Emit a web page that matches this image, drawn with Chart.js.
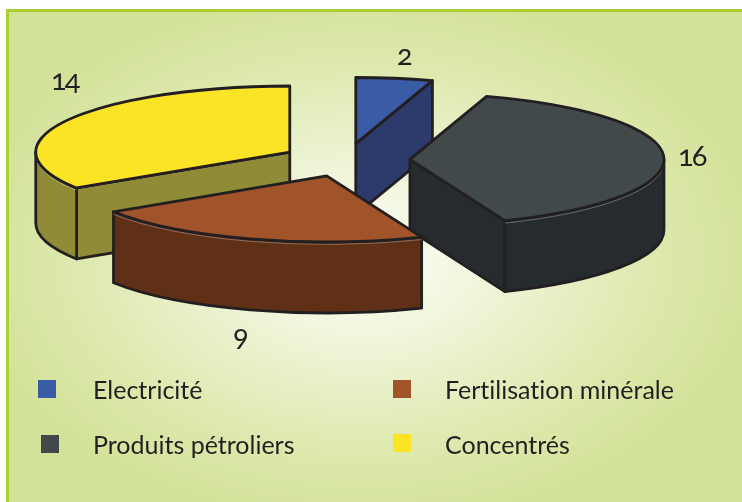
<!DOCTYPE html>
<html lang="fr">
<head>
<meta charset="utf-8">
<script src="https://cdn.jsdelivr.net/npm/chart.js@4"></script>
<style>
    html, body { margin: 0; padding: 0; width: 742px; height: 502px; overflow: hidden; background: #fff; }
    #cadre {
        position: absolute; left: 6px; top: 9px; width: 736px; height: 493px;
        box-sizing: border-box; border-left: 3px solid #a9d030; border-top: 3px solid #a9d030;
        background: radial-gradient(ellipse 400px 270px at 354px 245px, #fdfef9 0%, #eef4d6 35%, #dce8ab 75%, #d3e299 100%);
    }
    canvas { position: absolute; left: 0; top: 0; }
    .txt { position: absolute; font-family: Lato, sans-serif; color: #231f20; white-space: nowrap; line-height: 1; font-variant-ligatures: none; }
    .valeur { font-size: 29px; letter-spacing: -2px; font-variant-numeric: oldstyle-nums; }
    .legende { font-size: 25px; }
    .carre { position: absolute; width: 18px; height: 18px; }
</style>
</head>
<body>
<div id="cadre"></div>
<canvas id="graphique" width="742" height="502"></canvas>
<div id="textes"></div>
<script>
const categories = ['Electricité', 'Produits pétroliers', 'Fertilisation minérale', 'Concentrés'];
const valeurs = [2, 16, 9, 14];
const couleursDessus = ['#3a5ba6', '#42494b', '#a1532a', '#fbe426'];
const couleursCote = ['#2c3b6c', '#262b2d', '#5f2f16', '#8f8b37'];

// perspective du camembert
const inclinaison = 0.26;
const epaisseur = 71;
const eclatement = 64;
const contour = '#231f20';

// [x, y] du coin haut-gauche
const posValeurs = [[397, 39], [678, 140], [233, 320], [51, 64]];
const posCarres = [[38, 380], [41, 435], [393, 380], [393, 434]];
const posLegende = [[93, 377], [93, 432], [445, 377], [445, 432]];

const camembert3d = {
    id: 'camembert3d',
    beforeDatasetsDraw(chart) {
        const ctx = chart.ctx;
        const arcs = chart.getDatasetMeta(0).data.map((arc, i) => {
            const milieu = (arc.startAngle + arc.endAngle) / 2;
            return {
                arc, i,
                cx: arc.x + Math.cos(milieu) * eclatement,
                cy: arc.y + Math.sin(milieu) * eclatement * inclinaison
            };
        });
        // du fond vers l'avant
        arcs.sort((a, b) => a.cy - b.cy);

        arcs.forEach(({ arc, i, cx, cy }) => {
            const r = arc.outerRadius;
            const ry = r * inclinaison;
            const debut = arc.startAngle;
            const fin = arc.endAngle;

            ctx.save();
            ctx.lineWidth = 2.8;
            ctx.lineJoin = 'round';
            ctx.strokeStyle = contour;
            ctx.fillStyle = couleursCote[i];

            // faces de coupe tournees vers nous
            [debut, fin].forEach((angle, k) => {
                const visible = k === 0 ? Math.cos(angle) < 0 : Math.cos(angle) > 0;
                if (!visible) return;
                const px = cx + Math.cos(angle) * r;
                const py = cy + Math.sin(angle) * ry;
                ctx.beginPath();
                ctx.moveTo(cx, cy);
                ctx.lineTo(px, py);
                ctx.lineTo(px, py + epaisseur);
                ctx.lineTo(cx, cy + epaisseur);
                ctx.closePath();
                ctx.fill();
                ctx.stroke();
            });

            // paroi exterieure, seulement la partie avant
            const a = Math.max(debut, 0);
            const b = Math.min(fin, Math.PI);
            if (a < b) {
                ctx.beginPath();
                ctx.ellipse(cx, cy, r, ry, 0, a, b);
                ctx.ellipse(cx, cy + epaisseur, r, ry, 0, b, a, true);
                ctx.closePath();
                ctx.fill();
                ctx.stroke();

                // petit liseré clair sous l'arete du dessus
                ctx.save();
                ctx.lineWidth = 1;
                ctx.strokeStyle = 'rgba(255,255,255,0.3)';
                ctx.beginPath();
                ctx.ellipse(cx, cy + 2.5, r, ry, 0, a, b);
                ctx.stroke();
                ctx.restore();
            }

            // dessus : l'arc de Chart.js ecrase
            ctx.save();
            ctx.translate(cx, cy);
            ctx.scale(1, inclinaison);
            ctx.translate(-arc.x, -arc.y);
            arc.draw(ctx);
            ctx.restore();

            ctx.beginPath();
            ctx.moveTo(cx, cy);
            ctx.ellipse(cx, cy, r, ry, 0, debut, fin);
            ctx.closePath();
            ctx.stroke();
            ctx.restore();
        });
        return false;
    }
};

new Chart(document.getElementById('graphique').getContext('2d'), {
    type: 'pie',
    data: {
        labels: categories,
        datasets: [{
            data: valeurs,
            backgroundColor: couleursDessus,
            borderWidth: 0
        }]
    },
    options: {
        responsive: false,
        animation: false,
        radius: 254,
        layout: { padding: { left: 0, right: 50, top: 0, bottom: 182 } },
        plugins: {
            legend: { display: false },
            tooltip: { enabled: false }
        }
    },
    plugins: [camembert3d]
});

// libelles et legende en texte
const textes = document.getElementById('textes');
const ajouter = (classe, texte, pos) => {
    const el = document.createElement('div');
    el.className = classe;
    el.textContent = texte;
    el.style.left = pos[0] + 'px';
    el.style.top = pos[1] + 'px';
    textes.appendChild(el);
    return el;
};
valeurs.forEach((v, i) => ajouter('txt valeur', String(v), posValeurs[i]));
categories.forEach((c, i) => {
    ajouter('carre', '', posCarres[i]).style.background = couleursDessus[i];
    ajouter('txt legende', c, posLegende[i]);
});
</script>
</body>
</html>
